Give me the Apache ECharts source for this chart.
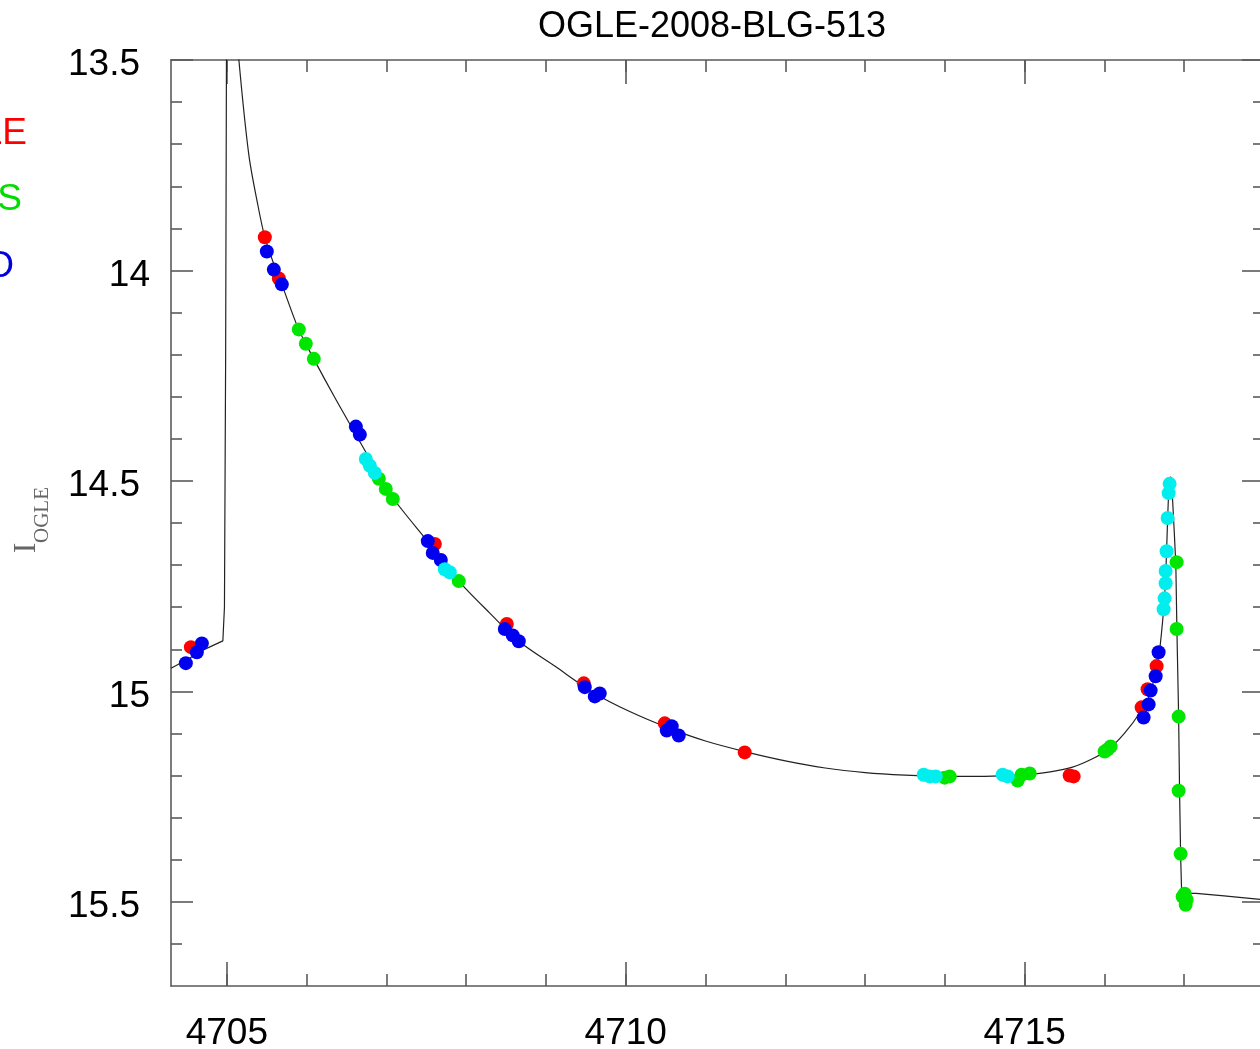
<!DOCTYPE html>
<html>
<head>
<meta charset="utf-8">
<title>OGLE-2008-BLG-513</title>
<script src="https://cdn.jsdelivr.net/npm/echarts@6/dist/echarts.min.js"></script>
<style>
  html, body { margin: 0; padding: 0; background: #ffffff; }
  #chart { width: 1260px; height: 1049px; }
</style>
</head>
<body>
<div id="chart"></div>
<script>
// Binary-lens model light curve (HJD - 2450000, I magnitude), in three pieces:
// caustic entry, the smooth trough between the caustics, and the caustic exit.
const entryDays = [4704.30, 4704.50, 4704.70, 4704.95, 4704.97, 4704.985, 4704.995, 4705.01];
const entryMags = [14.945, 14.925, 14.902, 14.880, 14.80, 14.20, 13.50, 13.05];

const troughDays = [4705.01, 4705.05, 4705.10, 4705.151, 4705.276, 4705.389, 4705.476, 4705.589,
  4705.689, 4705.90, 4706.09, 4706.353, 4706.617, 4706.855, 4707.08, 4707.544, 4707.907,
  4708.296, 4708.659, 4709.11, 4709.612, 4710.05, 4710.55, 4711.00, 4711.491, 4712.00,
  4712.50, 4713.00, 4713.50, 4714.00, 4714.50, 4715.00, 4715.30, 4715.60, 4715.85, 4716.05,
  4716.25, 4716.44, 4716.57, 4716.654, 4716.69, 4716.742, 4716.767, 4716.792, 4716.805,
  4716.817, 4716.832];
const troughMags = [13.05, 13.20, 13.36, 13.500, 13.726, 13.845, 13.921, 13.985,
  14.033, 14.140, 14.210, 14.302, 14.390, 14.469, 14.540, 14.650, 14.738,
  14.814, 14.881, 14.940, 15.005, 15.048, 15.088, 15.118, 15.143, 15.165,
  15.182, 15.193, 15.199, 15.202, 15.202, 15.198, 15.192, 15.180, 15.160, 15.138,
  15.100, 15.052, 15.007, 14.940, 14.905, 14.805, 14.730, 14.590, 14.530,
  14.500, 14.490];

const exitDays = [4716.832, 4716.850, 4716.875, 4716.895, 4716.908, 4716.930, 4716.942,
  4716.955, 4716.968, 4716.98, 4717.15, 4717.50, 4718.00];
const exitMags = [14.490, 14.530, 14.620, 14.700, 14.850, 15.060, 15.240,
  15.390, 15.480, 15.483, 15.480, 15.486, 15.495];

// OGLE photometry (red)
const ogleDays = [4704.549, 4705.476, 4705.652, 4707.607, 4708.509, 4709.474, 4710.489,
  4711.491, 4715.564, 4715.614, 4716.654, 4716.541, 4716.466];
const ogleMags = [14.895, 13.921, 14.019, 14.650, 14.840, 14.981, 15.076,
  15.145, 15.200, 15.202, 14.940, 14.995, 15.038];

// Green telescope
const greenDays = [4705.902, 4705.990, 4706.090, 4706.905, 4706.992, 4707.080, 4707.907,
  4713.997, 4714.060, 4714.912, 4714.962, 4715.063, 4716.003, 4716.040, 4716.078,
  4716.905, 4716.905, 4716.930, 4716.930, 4716.955, 4716.980, 4717.005, 4717.030, 4717.018];
const greenMags = [14.140, 14.174, 14.210, 14.495, 14.519, 14.543, 14.738,
  15.205, 15.202, 15.212, 15.198, 15.195, 15.143, 15.138, 15.131,
  14.693, 14.852, 15.060, 15.236, 15.386, 15.488, 15.481, 15.495, 15.507];

// Blue telescope
const blueDays = [4704.486, 4704.624, 4704.687, 4705.501, 4705.589, 4705.689, 4706.617,
  4706.667, 4707.519, 4707.581, 4707.682, 4708.484, 4708.584, 4708.659, 4709.486,
  4709.612, 4709.674, 4710.514, 4710.576, 4710.664, 4716.679, 4716.642, 4716.579,
  4716.554, 4716.491];
const blueMags = [14.933, 14.907, 14.886, 13.955, 13.998, 14.033, 14.371,
  14.390, 14.643, 14.671, 14.688, 14.852, 14.867, 14.881, 14.990,
  15.012, 15.005, 15.093, 15.083, 15.105, 14.907, 14.964, 14.998,
  15.031, 15.062];

// Cyan telescope
const cyanDays = [4706.742, 4706.792, 4706.855, 4707.732, 4707.794, 4713.734, 4713.810,
  4713.885, 4714.724, 4714.787, 4716.817, 4716.805, 4716.792, 4716.779, 4716.767,
  4716.767, 4716.754, 4716.742];
const cyanMags = [14.448, 14.464, 14.481, 14.710, 14.717, 15.198, 15.202,
  15.202, 15.198, 15.202, 14.507, 14.529, 14.588, 14.667, 14.714,
  14.743, 14.779, 14.805];

// Axis ticks
const xMajorTicks = [4705, 4710, 4715];
const xMinorTicks = [4705, 4706, 4707, 4708, 4709, 4710, 4711, 4712, 4713, 4714, 4715, 4716, 4717, 4718];
const yMajorTicks = [13.5, 14, 14.5, 15, 15.5];
const yMinorTicks = [13.6, 13.7, 13.8, 13.9, 14.1, 14.2, 14.3, 14.4, 14.6, 14.7, 14.8, 14.9,
  15.1, 15.2, 15.3, 15.4, 15.6];

const pairs = (xs, ys) => xs.map((x, i) => [x, ys[i]]);

const FONT = '"Liberation Sans", Arial, Helvetica, sans-serif';
const SERIF = '"Liberation Serif", "DejaVu Serif", serif';
const AXIS_COLOR = '#5a5a5a';
const X_MIN = 4704.3, X_MAX = 4718.0;
const Y_MIN = 13.5, Y_MAX = 15.7;

function xAxisDef(position, ticks, len, withLine, withLabels) {
  return {
    type: 'value', position: position, min: X_MIN, max: X_MAX,
    axisLine: { show: withLine, onZero: false, lineStyle: { color: AXIS_COLOR, width: 1.6 } },
    axisTick: { show: true, inside: true, length: len, customValues: ticks,
      lineStyle: { color: AXIS_COLOR, width: 1.6 } },
    axisLabel: withLabels ? { show: true, customValues: ticks, fontFamily: FONT, fontSize: 37,
      color: '#000', margin: 29, formatter: v => String(v) } : { show: false },
    splitLine: { show: false }
  };
}

function yAxisDef(position, ticks, len, withLine, withLabels) {
  return {
    type: 'value', position: position, min: Y_MIN, max: Y_MAX, inverse: true,
    axisLine: { show: withLine, onZero: false, lineStyle: { color: AXIS_COLOR, width: 1.6 } },
    axisTick: { show: true, inside: true, length: len, customValues: ticks,
      lineStyle: { color: AXIS_COLOR, width: 1.6 } },
    axisLabel: withLabels ? {
      show: true, customValues: ticks, margin: 21,
      formatter: v => Number.isInteger(v) ? '{n|' + v + '}' : '{h|' + v + '}',
      rich: {
        n: { fontFamily: FONT, fontSize: 37, color: '#000', padding: [10, 0, 0, 0] },
        h: { fontFamily: FONT, fontSize: 37, color: '#000', padding: [10, 10, 0, 0] }
      }
    } : { show: false },
    splitLine: { show: false }
  };
}

const chart = echarts.init(document.getElementById('chart'), null, { renderer: 'canvas' });

const dot = (name, color, xs, ys) => ({
  name: name, type: 'scatter', xAxisIndex: 0, yAxisIndex: 0,
  data: pairs(xs, ys), symbol: 'circle', symbolSize: 14, clip: true,
  itemStyle: { color: color, opacity: 1 }, z: 3
});

const modelPiece = (xs, ys, smooth) => ({
  name: 'model', type: 'line', xAxisIndex: 0, yAxisIndex: 0,
  data: pairs(xs, ys), showSymbol: false, clip: true, smooth: smooth,
  lineStyle: { color: '#222222', width: 1.2 }, z: 2
});

chart.setOption({
  backgroundColor: '#ffffff',
  animation: false,
  title: {
    text: 'OGLE-2008-BLG-513', left: 707, top: 4, textAlign: 'center',
    textStyle: { fontFamily: FONT, fontSize: 36, fontWeight: 'normal', color: '#000' }
  },
  grid: { left: 171, top: 60, width: 1093, height: 926, containLabel: false, outerBoundsMode: 'none' },
  xAxis: [
    xAxisDef('bottom', xMajorTicks, 24, true, true),
    xAxisDef('bottom', xMinorTicks, 12, false, false),
    xAxisDef('top', xMajorTicks, 24, true, false),
    xAxisDef('top', xMinorTicks, 12, false, false)
  ],
  yAxis: [
    yAxisDef('left', yMajorTicks, 22, true, true),
    yAxisDef('left', yMinorTicks, 11, false, false),
    yAxisDef('right', yMajorTicks, 22, true, false),
    yAxisDef('right', yMinorTicks, 11, false, false)
  ],
  graphic: [
    { type: 'text', x: 27, y: 134, z: 10,
      style: { text: 'OGLE', fill: '#ff0000', font: '37px ' + FONT, align: 'right', verticalAlign: 'middle' } },
    { type: 'text', x: 22, y: 200, z: 10,
      style: { text: 'FTS', fill: '#00dd00', font: '37px ' + FONT, align: 'right', verticalAlign: 'middle' } },
    { type: 'text', x: 14, y: 267, z: 10,
      style: { text: 'CTIO', fill: '#0000dd', font: '37px ' + FONT, align: 'right', verticalAlign: 'middle' } },
    { type: 'text', x: 27, y: 548, rotation: Math.PI / 2, z: 10,
      style: { text: 'I', fill: '#666666', font: '32px ' + SERIF, align: 'center', verticalAlign: 'middle' } },
    { type: 'text', x: 42, y: 515, rotation: Math.PI / 2, z: 10,
      style: { text: 'OGLE', fill: '#666666', font: '21px ' + SERIF, align: 'center', verticalAlign: 'middle' } }
  ],
  series: [
    modelPiece(entryDays, entryMags, false),
    modelPiece(troughDays, troughMags, 0.3),
    modelPiece(exitDays, exitMags, false),
    dot('OGLE', '#ff0000', ogleDays, ogleMags),
    dot('FTS', '#00e600', greenDays, greenMags),
    dot('CTIO', '#0000ee', blueDays, blueMags),
    dot('cyan', '#00eeee', cyanDays, cyanMags)
  ]
});
</script>
</body>
</html>
